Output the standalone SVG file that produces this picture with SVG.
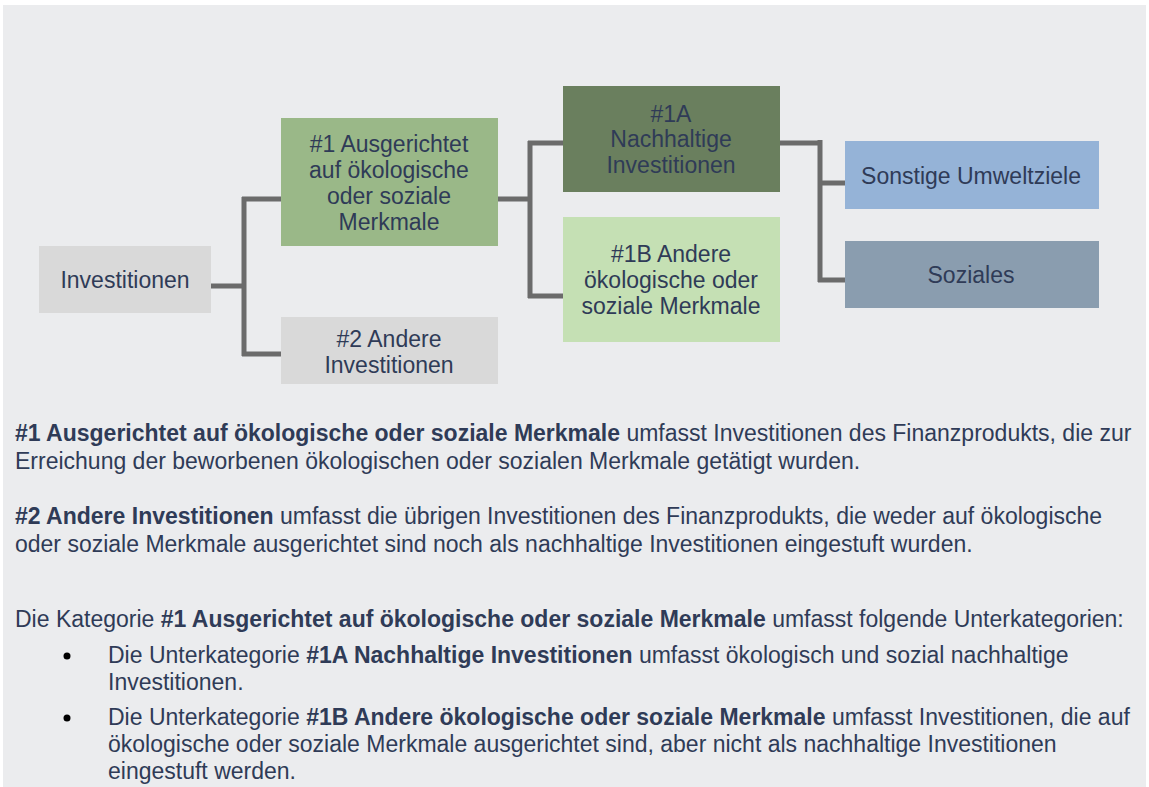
<svg xmlns="http://www.w3.org/2000/svg" width="1149" height="787" viewBox="0 0 1149 787">
<style>
  .t { font-family: "Liberation Sans", Arial, sans-serif; font-size: 23px; fill: #2F3B57; }
  .c { text-anchor: middle; }
  .b { font-weight: bold; }
  .con { fill: none; stroke: #6B6B6B; stroke-width: 5; stroke-linecap: butt; stroke-linejoin: miter; }
</style>
<rect x="0" y="0" width="1149" height="787" fill="#FFFFFF"/>
<rect x="3" y="5" width="1143" height="782" fill="#EBECEE"/>

<g id="connectors">
  <path class="con" d="M211,286 H244 M244,197 V356 M242,199 H281 M242,354 H281"/>
  <path class="con" d="M497,199 H530 M530,141 V298 M528,143 H563 M528,296 H563"/>
  <path class="con" d="M779,143 H820 M820,140 V282 M818,183 H845 M818,280 H845"/>
</g>

<g id="node-investitionen">
  <rect x="39" y="246" width="172" height="67" fill="#D9D9D9"/>
  <text class="t c" x="125" y="288">Investitionen</text>
</g>

<g id="node-1">
  <rect x="281" y="118" width="217" height="128" fill="#9AB888"/>
  <text class="t c" x="389" y="152">#1 Ausgerichtet</text>
  <text class="t c" x="389" y="178">auf ökologische</text>
  <text class="t c" x="389" y="204">oder soziale</text>
  <text class="t c" x="389" y="230">Merkmale</text>
</g>

<g id="node-2">
  <rect x="281" y="317" width="217" height="67" fill="#D9D9D9"/>
  <text class="t c" x="389" y="347">#2 Andere</text>
  <text class="t c" x="389" y="373">Investitionen</text>
</g>

<g id="node-1a">
  <rect x="563" y="86" width="217" height="106" fill="#6A7F5E"/>
  <text class="t c" x="671" y="122">#1A</text>
  <text class="t c" x="671" y="147">Nachhaltige</text>
  <text class="t c" x="671" y="173">Investitionen</text>
</g>

<g id="node-1b">
  <rect x="563" y="217" width="217" height="125" fill="#C5E0B4"/>
  <text class="t c" x="671" y="262">#1B Andere</text>
  <text class="t c" x="671" y="288">ökologische oder</text>
  <text class="t c" x="671" y="314">soziale Merkmale</text>
</g>

<g id="node-sonstige">
  <rect x="845" y="141" width="254" height="68" fill="#95B3D7"/>
  <text class="t c" x="971" y="184">Sonstige Umweltziele</text>
</g>

<g id="node-soziales">
  <rect x="845" y="241" width="254" height="67" fill="#8A9DAF"/>
  <text class="t c" x="971" y="283">Soziales</text>
</g>

<g id="description">
  <text class="t" x="15" y="441"><tspan class="b">#1 Ausgerichtet auf ökologische oder soziale Merkmale</tspan> umfasst Investitionen des Finanzprodukts, die zur</text>
  <text class="t" x="15" y="469">Erreichung der beworbenen ökologischen oder sozialen Merkmale getätigt wurden.</text>
  <text class="t" x="15" y="524"><tspan class="b">#2 Andere Investitionen</tspan> umfasst die übrigen Investitionen des Finanzprodukts, die weder auf ökologische</text>
  <text class="t" x="15" y="552">oder soziale Merkmale ausgerichtet sind noch als nachhaltige Investitionen eingestuft wurden.</text>
  <text class="t" x="15" y="627">Die Kategorie <tspan class="b">#1 Ausgerichtet auf ökologische oder soziale Merkmale</tspan> umfasst folgende Unterkategorien:</text>
  <circle cx="67" cy="656" r="3.5" fill="#000000"/>
  <text class="t" x="108" y="663">Die Unterkategorie <tspan class="b">#1A Nachhaltige Investitionen</tspan> umfasst ökologisch und sozial nachhaltige</text>
  <text class="t" x="108" y="690">Investitionen.</text>
  <circle cx="67" cy="718" r="3.5" fill="#000000"/>
  <text class="t" x="108" y="725">Die Unterkategorie <tspan class="b">#1B Andere ökologische oder soziale Merkmale</tspan> umfasst Investitionen, die auf</text>
  <text class="t" x="108" y="752">ökologische oder soziale Merkmale ausgerichtet sind, aber nicht als nachhaltige Investitionen</text>
  <text class="t" x="108" y="779">eingestuft werden.</text>
</g>
</svg>
